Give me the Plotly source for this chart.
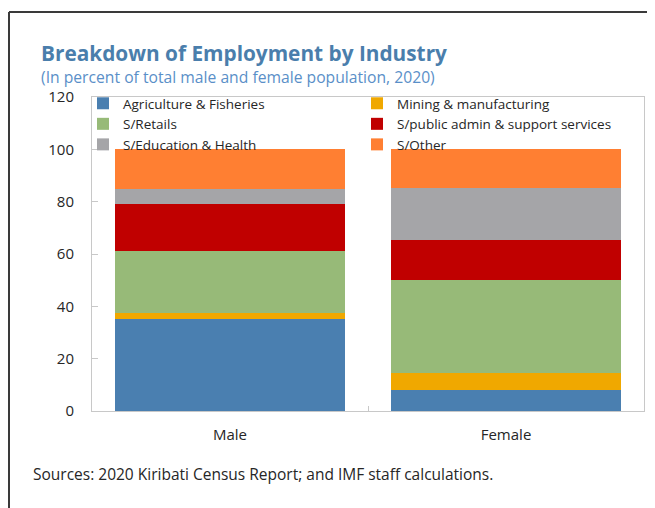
import plotly.graph_objects as go

categories = ["Male", "Female"]
series_names = [
    "Agriculture & Fisheries",
    "Mining & manufacturing",
    "S/Retails",
    "S/public admin & support services",
    "S/Education & Health",
    "S/Other",
]
agriculture = [35.2, 8.0]
mining = [2.1, 6.6]
retails = [24.0, 35.6]
public_admin = [17.9, 15.3]
education = [5.5, 19.9]
other = [15.3, 14.6]
series_values = [agriculture, mining, retails, public_admin, education, other]
colors = ["#4A7FB0", "#F0A800", "#97BA78", "#C00000", "#A5A5A8", "#FF7F32"]

y_ticks = [0, 20, 40, 60, 80, 100, 120]

title_text = "Breakdown of Employment by Industry"
subtitle_text = "(In percent of total male and female population, 2020)"
source_text = "Sources: 2020 Kiribati Census Report; and IMF staff calculations."

# the page body adds an 8px offset; positions below are page pixels
OFF = 8
W, H = 655, 508
PLOT_L, PLOT_T, PLOT_R, PLOT_B = 92, 97, 644, 411
L = PLOT_L - OFF
T = PLOT_T - OFF
PW = PLOT_R - PLOT_L
PH = PLOT_B - PLOT_T
R = W - L - PW
B = H - T - PH


def px(x):
    return (x - OFF - L) / PW


def py(y):
    return (H - B - (y - OFF)) / PH


def cx(x):
    return (x - OFF) / W


FONT = "Open Sans"

fig = go.Figure()
for name, vals, col in zip(series_names, series_values, colors):
    fig.add_trace(go.Bar(x=categories, y=vals, name=name, marker=dict(color=col, line=dict(width=0))))

fig.update_layout(
    width=W, height=H,
    margin=dict(l=L, r=R, t=T, b=B, autoexpand=False),
    paper_bgcolor="white", plot_bgcolor="white",
    barmode="stack", bargap=0.167,
    font=dict(family=FONT, color="#262626", size=14),
    showlegend=True,
    legend=dict(
        orientation="h", traceorder="normal",
        xref="container", x=cx(83), xanchor="left",
        y=py(88), yanchor="top",
        entrywidth=229, entrywidthmode="pixels",
        font=dict(family=FONT, size=13.5, color="#262626"),
        bgcolor="rgba(0,0,0,0)", itemclick=False,
    ),
    xaxis=dict(
        showline=True, linecolor="#C8C8C8", linewidth=1, mirror=True,
        ticks="inside", tickson="boundaries", ticklen=5, tickcolor="#C8C8C8",
        tickfont=dict(family=FONT, size=15, color="#262626"),
        ticklabelstandoff=10, showgrid=False, zeroline=False, fixedrange=True,
    ),
    yaxis=dict(
        range=[0, 120], tickvals=y_ticks,
        showline=True, linecolor="#C8C8C8", linewidth=1, mirror=True,
        ticks="inside", ticklen=6, tickcolor="#C8C8C8",
        tickfont=dict(family=FONT, size=15, color="#262626"),
        ticklabelstandoff=14, showgrid=False, zeroline=False, fixedrange=True,
    ),
)

fig.add_annotation(text="<b>" + title_text + "</b>", xref="paper", yref="paper",
                   x=px(39), y=py(53), xanchor="left", yanchor="middle", showarrow=False,
                   font=dict(family=FONT, size=20.8, color="#4A7EAC"))
fig.add_annotation(text=subtitle_text, xref="paper", yref="paper",
                   x=px(39), y=py(77), xanchor="left", yanchor="middle", showarrow=False,
                   font=dict(family=FONT, size=15.7, color="#5A8FC8"))
fig.add_annotation(text=source_text, xref="paper", yref="paper",
                   x=px(31), y=py(474), xanchor="left", yanchor="middle", showarrow=False,
                   font=dict(family=FONT, size=15.5, color="#262626"))

# outer frame (top and left edges visible)
fig.add_shape(type="line", xref="paper", yref="paper", x0=px(9), x1=px(670), y0=py(12), y1=py(12),
              line=dict(color="#3A3A3A", width=2))
fig.add_shape(type="line", xref="paper", yref="paper", x0=px(9), x1=px(9), y0=py(12), y1=py(520),
              line=dict(color="#3A3A3A", width=2))

fig.write_html("out.html", config={"displayModeBar": False})
